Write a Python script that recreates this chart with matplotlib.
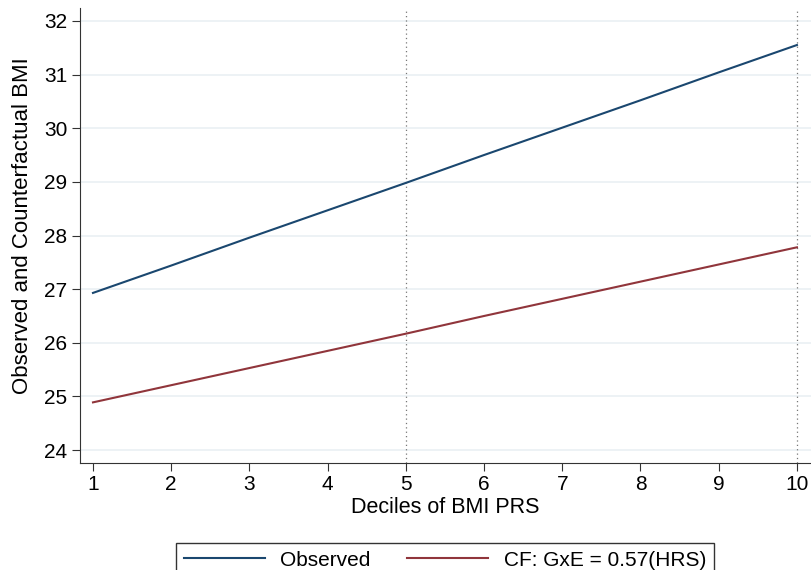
import numpy as np
import matplotlib.pyplot as plt

deciles = [1, 2, 3, 4, 5, 6, 7, 8, 9, 10]
observed = [26.93, 27.44, 27.96, 28.47, 28.98, 29.50, 30.01, 30.52, 31.04, 31.55]
cf_gxe = [24.89, 25.21, 25.53, 25.85, 26.17, 26.50, 26.82, 27.14, 27.46, 27.78]
yticks = [24, 25, 26, 27, 28, 29, 30, 31, 32]
vlines = [5, 10]

plt.rcParams['font.family'] = ['Liberation Sans', 'DejaVu Sans']

fig = plt.figure(figsize=(8.11, 5.70), dpi=100)
ax = fig.add_axes([80/811, 1 - 463/570, 731/811, 455/570])

for y in yticks:
    ax.axhline(y, color='#eaf0f3', lw=1.2, zorder=0)
for x in vlines:
    ax.axvline(x, color='#777777', lw=0.9, ls=(0, (1, 2.5)), zorder=1)

l1, = ax.plot(deciles, observed, color='#1a476f', lw=1.5, label='Observed')
l2, = ax.plot(deciles, cf_gxe, color='#90353b', lw=1.5, label='CF: GxE = 0.57(HRS)')

ax.set_xlim(0.834, 10.18)
ax.set_ylim(23.76, 32.24)
ax.set_xticks(deciles)
ax.set_yticks(yticks)
ax.spines['top'].set_visible(False)
ax.spines['right'].set_visible(False)
ax.spines['left'].set_color('#333333')
ax.spines['bottom'].set_color('#333333')
ax.tick_params(labelsize=15, length=6, color='#333333', pad=3)
ax.set_xlabel('Deciles of BMI PRS', fontsize=15.5, labelpad=2)
ax.set_ylabel('Observed and Counterfactual BMI', fontsize=16)
ax.yaxis.set_label_coords(-47/731, 0.522)

leg = fig.legend(handles=[l1, l2], loc='upper center', bbox_to_anchor=(445/811, 1 - 533/570),
                 ncol=2, fontsize=15, frameon=True, fancybox=False, handlelength=3.9,
                 handletextpad=0.75, columnspacing=1.75, borderpad=0.35, edgecolor='black')
leg.get_frame().set_linewidth(1.0)

fig.savefig('out.png', dpi=100)
